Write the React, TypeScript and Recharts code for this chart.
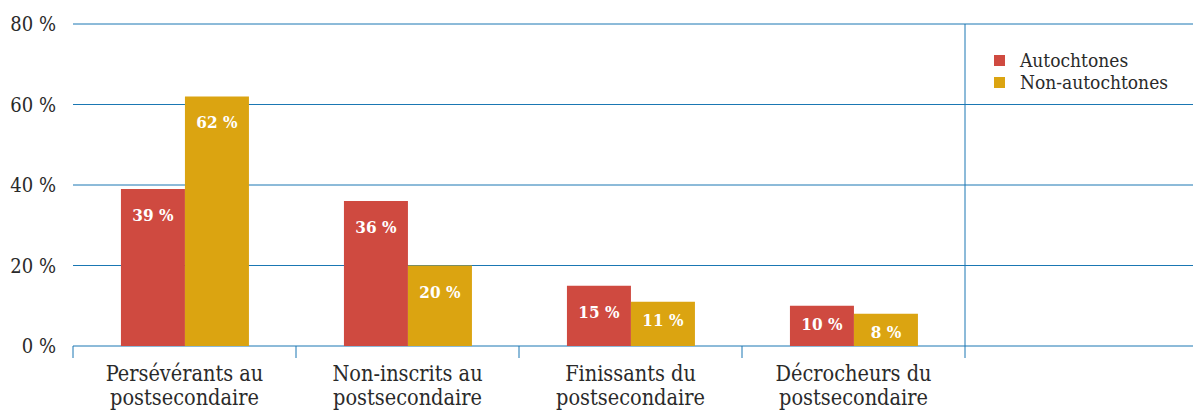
import React from 'react';
import { ComposedChart, Bar, XAxis, YAxis, CartesianGrid, Legend, LabelList } from 'recharts';

const categories = [
  'Persévérants au postsecondaire',
  'Non-inscrits au postsecondaire',
  'Finissants du postsecondaire',
  'Décrocheurs du postsecondaire',
];
const autochtones = [39, 36, 15, 10];
const nonAutochtones = [62, 20, 11, 8];
const yTicks = [0, 20, 40, 60, 80];
const seriesNames = ['Autochtones', 'Non-autochtones'];
const seriesColors = ['#CF4A40', '#DBA411'];

const data = categories.map((category, i) => ({
  category,
  autochtones: autochtones[i],
  nonAutochtones: nonAutochtones[i],
}));

const FONT = "'DejaVu Serif Condensed', 'DejaVu Serif', serif";
const TEXT = '#2a2a2a';
const BLUE = '#1A77B3';

function CategoryTick(props: any) {
  const { x, y, payload, index } = props;
  const half = payload && payload.offset != null ? payload.offset : 0;
  const text = String(payload.value);
  const cut = text.lastIndexOf(' ');
  const lines = [text.slice(0, cut), text.slice(cut + 1)];
  return (
    <g>
      <line x1={x - half} x2={x - half} y1={y - 12} y2={y} stroke={BLUE} strokeWidth={1} />
      {index === categories.length - 1 && (
        <line x1={x + half} x2={x + half} y1={y - 12} y2={y} stroke={BLUE} strokeWidth={1} />
      )}
      <text textAnchor="middle" fill={TEXT} fontFamily={FONT} fontSize={21.5}>
        {lines.map((l, i) => (
          <tspan key={i} x={x} y={y + 23.3 + i * 23.7}>
            {l}
          </tspan>
        ))}
      </text>
    </g>
  );
}

function BarLabel(props: any) {
  const { x, y, width, height, value } = props;
  const dy = Math.min(26, Math.max(18, height / 2 - 4));
  return (
    <text
      x={x + width / 2}
      y={y + dy}
      textAnchor="middle"
      dominantBaseline="central"
      fill="#ffffff"
      fontWeight="bold"
      fontFamily={FONT}
      fontSize={17}
    >
      {`${value}\u00a0%`}
    </text>
  );
}

function LegendContent() {
  return (
    <div style={{ fontFamily: FONT, fontSize: 19, color: TEXT }}>
      {seriesNames.map((n, i) => (
        <div key={n} style={{ display: 'flex', alignItems: 'center', height: 22 }}>
          <span
            style={{
              display: 'inline-block',
              width: 11,
              height: 11,
              background: seriesColors[i],
              marginRight: 15,
            }}
          />
          <span>{n}</span>
        </div>
      ))}
    </div>
  );
}

export default function App() {
  return (
    <div style={{ position: 'absolute', left: 0, top: 0, background: '#fff' }}>
      <ComposedChart
        width={1193}
        height={410}
        data={data}
        margin={{ top: 24, right: 228, bottom: 0, left: 0 }}
        barCategoryGap="21.5%"
        barGap={0}
      >
        <CartesianGrid horizontal vertical={false} stroke={BLUE} x={73} width={1120} />
        <CartesianGrid
          horizontal={false}
          vertical
          stroke={BLUE}
          verticalCoordinatesGenerator={({ offset }: any) => [offset.left + offset.width]}
        />
        <XAxis
          dataKey="category"
          tick={<CategoryTick />}
          tickLine={false}
          axisLine={false}
          height={64}
          tickSize={12}
          tickMargin={0}
          interval={0}
        />
        <YAxis
          width={73}
          domain={[0, 80]}
          ticks={yTicks}
          tickLine={false}
          axisLine={false}
          tickSize={0}
          tickMargin={17}
          tick={{ fill: TEXT, fontFamily: FONT, fontSize: 20 }}
          tickFormatter={(v: number) => `${v}\u00a0%`}
        />
        <Legend
          layout="vertical"
          align="center"
          verticalAlign="middle"
          content={<LegendContent />}
          wrapperStyle={{ left: 994, top: 49, width: 195 }}
        />
        <Bar dataKey="autochtones" name={seriesNames[0]} fill={seriesColors[0]} isAnimationActive={false}>
          <LabelList dataKey="autochtones" content={<BarLabel />} />
        </Bar>
        <Bar dataKey="nonAutochtones" name={seriesNames[1]} fill={seriesColors[1]} isAnimationActive={false}>
          <LabelList dataKey="nonAutochtones" content={<BarLabel />} />
        </Bar>
      </ComposedChart>
    </div>
  );
}
